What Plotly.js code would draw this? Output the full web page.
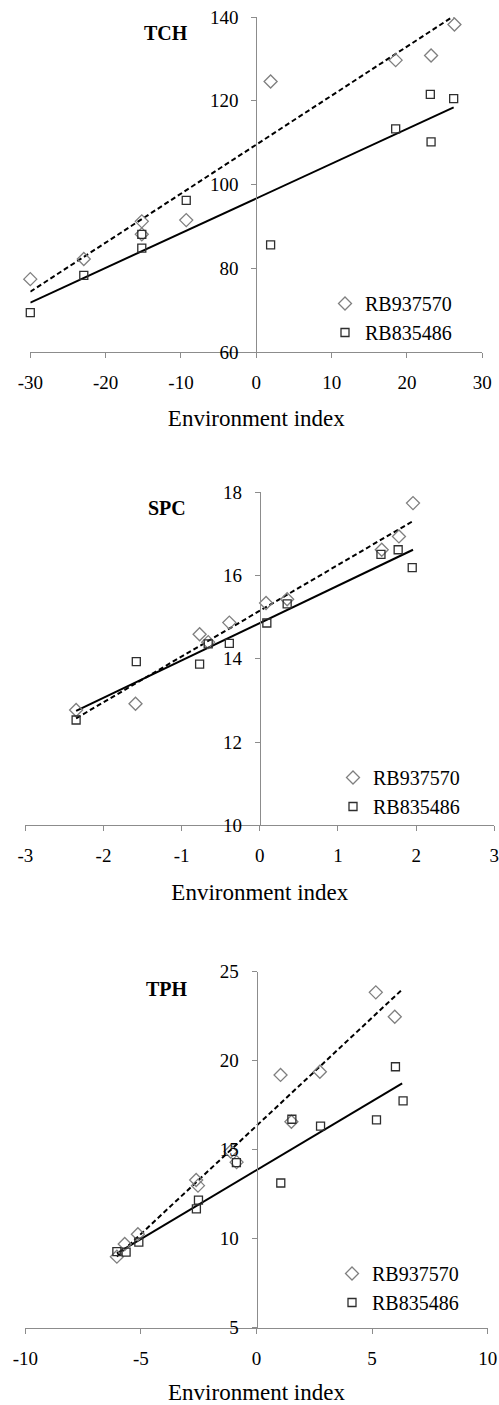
<!DOCTYPE html>
<html>
<head>
<meta charset="utf-8">
<script src="https://cdn.plot.ly/plotly-3.0.1.min.js"></script>
<style>html,body{margin:0;padding:0;background:#fff;}#chart{width:499px;height:1405px;}</style>
</head>
<body>
<div id="chart"></div>
<script>
// ---- Data ----
const seriesNames = ["RB937570", "RB835486"];
const panelLabels = ["TCH", "SPC", "TPH"];
const xAxisTitle = "Environment index";

// TCH
const tchX_A = [-30, -22.9, -15.2, -15.2, -9.3, 1.9, 18.5, 23.2, 26.3];
const tchY_A = [77.4, 82.2, 91.2, 88.1, 91.5, 124.6, 129.7, 130.8, 138.2];
const tchX_B = [-30, -22.9, -15.2, -15.2, -9.3, 1.9, 18.5, 23.1, 23.2, 26.2];
const tchY_B = [69.4, 78.3, 88.1, 84.8, 96.2, 85.6, 113.3, 121.5, 110.2, 120.5];
const tchFitX = [-30, 26.2];
const tchFitA = [74.4, 140.2];
const tchFitB = [71.8, 118.4];

// SPC
const spcX_A = [-2.35, -1.59, -0.77, -0.66, -0.39, 0.08, 0.35, 1.56, 1.78, 1.96];
const spcY_A = [12.77, 12.92, 14.59, 14.40, 14.87, 15.34, 15.43, 16.62, 16.94, 17.74];
const spcX_B = [-2.35, -1.58, -0.77, -0.66, -0.39, 0.09, 0.35, 1.55, 1.77, 1.95];
const spcY_B = [12.53, 13.93, 13.87, 14.36, 14.37, 14.86, 15.32, 16.51, 16.62, 16.19];
const spcFitX = [-2.35, 1.96];
const spcFitA = [12.57, 17.31];
const spcFitB = [12.75, 16.62];

// TPH
const tphX_A = [-6.04, -5.7, -5.13, -2.61, -2.53, -1.12, -0.86, 1.04, 1.51, 2.74, 5.16, 5.98];
const tphY_A = [8.99, 9.7, 10.25, 13.3, 12.98, 14.9, 14.3, 19.2, 16.57, 19.38, 23.84, 22.47];
const tphX_B = [-6.04, -5.64, -5.09, -2.6, -2.51, -0.87, 1.05, 1.53, 2.77, 5.19, 6.01, 6.34];
const tphY_B = [9.27, 9.25, 9.81, 11.67, 12.17, 14.27, 13.13, 16.71, 16.33, 16.67, 19.66, 17.74];
const tphFitX = [-6.04, 6.3];
const tphFitA = [9.0, 24.0];
const tphFitB = [9.18, 18.73];

// axis ranges / tick values and labels
const xRanges = [[-30, 30], [-3, 3], [-10, 10]];
const xTickVals = [[-30, -20, -10, 0, 10, 20, 30], [-3, -2, -1, 0, 1, 2, 3], [-10, -5, 0, 5, 10]];
const xTickText = [["-30", "-20", "-10", "0", "10", "20", "30"], ["-3", "-2", "-1", "0", "1", "2", "3"], ["-10", "-5", "0", "5", "10"]];
const yRanges = [[60, 140], [10, 18], [5, 25]];
const yDtick = [20, 2, 5];

// ---- Layout geometry ----
const W = 499, H = 1405;
const xDomPx = [[30.3, 482.3], [25.3, 494.3], [25.3, 487.7]];
const yDomPx = [[17, 352], [492.3, 825.3], [971.7, 1327.7]]; // top, bottom in px
const legendPx = [[325, 284], [333, 758], [332, 1254]];
const labelPx = [[166, 33], [167, 508], [167, 989]];

const FONT = "Liberation Serif, Times New Roman, serif";
const colA = "#7f7f7f", colB = "#2e2e2e";

const panels = [
  {xA: tchX_A, yA: tchY_A, xB: tchX_B, yB: tchY_B, fx: tchFitX, fa: tchFitA, fb: tchFitB},
  {xA: spcX_A, yA: spcY_A, xB: spcX_B, yB: spcY_B, fx: spcFitX, fa: spcFitA, fb: spcFitB},
  {xA: tphX_A, yA: tphY_A, xB: tphX_B, yB: tphY_B, fx: tphFitX, fa: tphFitA, fb: tphFitB}
];

const data = [];
const layout = {
  width: W, height: H,
  margin: {l: 0, r: 0, t: 0, b: 0},
  paper_bgcolor: "#fff", plot_bgcolor: "rgba(0,0,0,0)",
  font: {family: FONT, color: "#000", size: 19},
  annotations: [],
  showlegend: true
};

panels.forEach((p, i) => {
  const n = i + 1;
  const xa = n === 1 ? "x" : "x" + n;
  const ya = n === 1 ? "y" : "y" + n;
  const lg = n === 1 ? "legend" : "legend" + n;

  data.push({x: p.fx, y: p.fa, xaxis: xa, yaxis: ya, mode: "lines", showlegend: false, cliponaxis: false,
    line: {color: "#000", width: 2, dash: "5px,3px"}, hoverinfo: "skip"});
  data.push({x: p.fx, y: p.fb, xaxis: xa, yaxis: ya, mode: "lines", showlegend: false, cliponaxis: false,
    line: {color: "#000", width: 2}, hoverinfo: "skip"});
  data.push({x: p.xA, y: p.yA, xaxis: xa, yaxis: ya, mode: "markers", name: seriesNames[0], legend: lg, cliponaxis: false,
    marker: {symbol: "diamond-open", size: 10, color: colA, line: {width: 1.3, color: colA}}});
  data.push({x: p.xB, y: p.yB, xaxis: xa, yaxis: ya, mode: "markers", name: seriesNames[1], legend: lg, cliponaxis: false,
    marker: {symbol: "square-open", size: 8, color: colB, line: {width: 1.3, color: colB}}});

  const xd = [xDomPx[i][0] / W, xDomPx[i][1] / W];
  const yd = [1 - yDomPx[i][1] / H, 1 - yDomPx[i][0] / H];
  const xr = xRanges[i];
  const yPos = xd[0] + (0 - xr[0]) / (xr[1] - xr[0]) * (xd[1] - xd[0]);

  layout["xaxis" + (n === 1 ? "" : n)] = {
    domain: xd, range: xr, tickmode: "array", tickvals: xTickVals[i], ticktext: xTickText[i], anchor: ya,
    showline: true, linecolor: "#8c8c8c", linewidth: 1,
    ticks: "outside", ticklen: 5, tickcolor: "#8c8c8c", tickwidth: 1,
    showgrid: false, zeroline: false, ticklabelstandoff: 8, ticklabeloverflow: "allow",
    tickfont: {family: FONT, size: 19, color: "#000"},
    title: {text: xAxisTitle, font: {family: FONT, size: 23, color: "#000"}, standoff: 18},
    automargin: false, fixedrange: true
  };
  layout["yaxis" + (n === 1 ? "" : n)] = {
    domain: yd, range: yRanges[i], dtick: yDtick[i], tick0: 0,
    anchor: "free", position: yPos, side: "left",
    showline: true, linecolor: "#8c8c8c", linewidth: 1,
    ticks: "outside", ticklen: 5, tickcolor: "#8c8c8c", tickwidth: 1,
    showgrid: false, zeroline: false, ticklabelstandoff: 9, ticklabeloverflow: "allow",
    tickfont: {family: FONT, size: 19, color: "#000"},
    automargin: false, fixedrange: true
  };
  layout[lg] = {
    x: legendPx[i][0] / W, y: 1 - legendPx[i][1] / H, xanchor: "left", yanchor: "top",
    bgcolor: "rgba(0,0,0,0)", borderwidth: 0,
    font: {family: FONT, size: 20, color: "#000"}, tracegroupgap: 0
  };
  layout.annotations.push({
    xref: "paper", yref: "paper", x: labelPx[i][0] / W, y: 1 - labelPx[i][1] / H,
    xanchor: "center", yanchor: "middle", showarrow: false,
    text: "<b>" + panelLabels[i] + "</b>", font: {family: FONT, size: 20, color: "#000"}
  });
});

Plotly.newPlot("chart", data, layout, {displayModeBar: false, staticPlot: true});
</script>
</body>
</html>
